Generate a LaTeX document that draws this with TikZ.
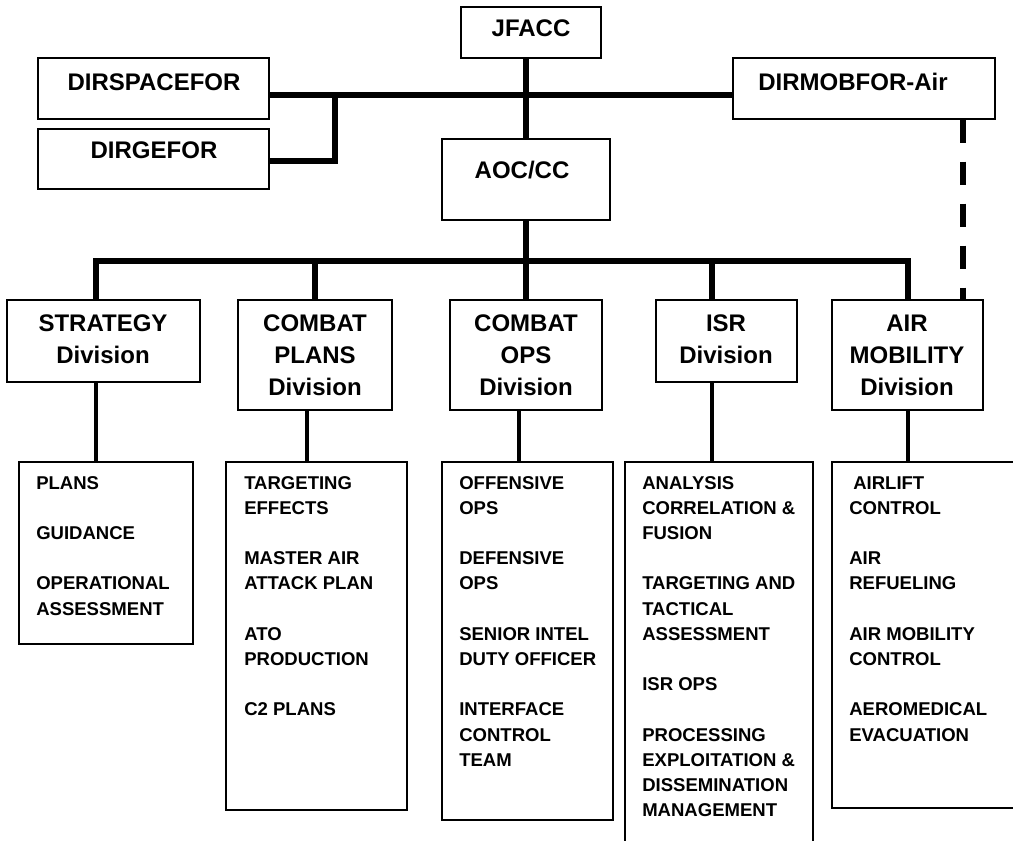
\documentclass[tikz,border=0pt]{standalone}
\usepackage{fontspec}
\setmainfont{Liberation Sans}
\usetikzlibrary{fit}

% multi-line cells aligned on the baseline of their first line
\newcommand{\ctext}[1]{\begin{tabular}[t]{@{}c@{}}#1\end{tabular}}
\newcommand{\ltext}[1]{\begin{tabular}[t]{@{}l@{}}#1\end{tabular}}

\tikzset{
  box/.style={draw=black, line width=1.1pt, inner sep=0pt, fill=white},
  hdr/.style={inner sep=0pt, anchor=base, font=\fontsize{18}{23.75}\selectfont\bfseries},
  item/.style={inner sep=0pt, anchor=base west, font=\fontsize{13.9}{18.9}\selectfont\bfseries},
  bus/.style={line width=4.1pt},
  drop/.style={line width=3pt},
  dashlink/.style={line width=4.5pt, dash pattern=on 17.25pt off 14.25pt},
}

\begin{document}
\begin{tikzpicture}[x=0.75pt, y=-0.75pt]
\useasboundingbox (0,0) rectangle (1013,840);
\fill[white] (0,0) rectangle (1013,840);

% --- top level ---
\node[box, fit={(461,7) (601,58)}] (jfacc) {};
\node[box, fit={(38,58) (269,119)}] (dspace) {};
\node[box, fit={(38,129) (269,189)}] (dge) {};
\node[box, fit={(733,58) (995,119)}] (dmob) {};
\node[box, fit={(442,139) (610,220)}] (aoc) {};

\node[hdr] (tjfacc) at (531,36) {JFACC};
\node[hdr] (tdspace) at (154,90) {DIRSPACEFOR};
\node[hdr] (tdge) at (154,158) {DIRGEFOR};
\node[hdr] (tdmob) at (853,90) {DIRMOBFOR-Air};
\node[hdr] (taoc) at (522,178) {AOC/CC};

% --- divisions ---
\node[box, fit={(7,300) (200,382)}] (strat) {};
\node[box, fit={(238,300) (392,410)}] (cplans) {};
\node[box, fit={(450,300) (602,410)}] (cops) {};
\node[box, fit={(656,300) (797,382)}] (isr) {};
\node[box, fit={(832,300) (983,410)}] (amob) {};

\node[hdr] (tstrat) at (103,331.7) {\ctext{STRATEGY\\Division}};
\node[hdr] (tcplans) at (315,331.7) {\ctext{COMBAT\\PLANS\\Division}};
\node[hdr] (tcops) at (526,331.7) {\ctext{COMBAT\\OPS\\Division}};
\node[hdr] (tisr) at (726,331.7) {\ctext{ISR\\Division}};
\node[hdr] (tamob) at (907,331.7) {\ctext{AIR\\MOBILITY\\Division}};

% --- branch lists ---
\node[box, fit={(19,462) (193,644)}] (lstrat) {};
\node[box, fit={(226,462) (407,810)}] (lcplans) {};
\node[box, fit={(442,462) (613,820)}] (lcops) {};
\node[box, fit={(625,462) (813,850)}] (lisr) {};
\node[box, fit={(832,462) (1030,808)}] (lamob) {};

\node[item] (istrat) at (36,489) {\ltext{PLANS\\ \\GUIDANCE\\ \\OPERATIONAL\\ASSESSMENT}};
\node[item] (icplans) at (244,489) {\ltext{TARGETING\\EFFECTS\\ \\MASTER AIR\\ATTACK PLAN\\ \\ATO\\PRODUCTION\\ \\C2 PLANS}};
\node[item] (icops) at (459,489) {\ltext{OFFENSIVE\\OPS\\ \\DEFENSIVE\\OPS\\ \\SENIOR INTEL\\DUTY OFFICER\\ \\INTERFACE\\CONTROL\\TEAM}};
\node[item] (iisr) at (642,489) {\ltext{ANALYSIS\\CORRELATION \&\\FUSION\\ \\TARGETING AND\\TACTICAL\\ASSESSMENT\\ \\ISR OPS\\ \\PROCESSING\\EXPLOITATION \&\\DISSEMINATION\\MANAGEMENT}};
\node[item] (iamob) at (849,489) {\ltext{\hspace{3pt}AIRLIFT\\CONTROL\\ \\AIR\\REFUELING\\ \\AIR MOBILITY\\CONTROL\\ \\AEROMEDICAL\\EVACUATION}};

% --- junction points ---
\coordinate (topbus) at (0,95);
\coordinate (gejoin) at (335,95);
\coordinate (gecorner) at (335,161);
\coordinate (divbus) at (0,261);
\coordinate (dashx) at (963,0);

% --- top connectors ---
\begin{scope}[on background layer/.style={}]
\draw[bus] (aoc.north) -- (aoc.north |- jfacc.south);
\draw[bus] (dspace.east |- topbus) -- (dmob.west |- topbus);
\draw[bus] (gejoin) -- (gecorner) -- (dge.east |- gecorner);
\draw[dashlink] (dashx |- dmob.south) -- (dashx |- amob.north);
\end{scope}

% --- division bus ---
\coordinate (bstrat) at (96,261);
\coordinate (bcplans) at (315,261);
\coordinate (bcops) at (526,261);
\coordinate (bisr) at (712,261);
\coordinate (bamob) at (908,261);
\draw[bus] (aoc.south) -- (bcops);
\draw[bus, line join=miter] (bstrat |- strat.north) -- (bstrat) -- (bamob) -- (bamob |- amob.north);
\draw[bus] (bcplans) -- (bcplans |- cplans.north);
\draw[bus] (bcops) -- (bcops |- cops.north);
\draw[bus] (bisr) -- (bisr |- isr.north);

% --- division to list drops ---
\draw[drop] (96,0 |- strat.south) -- (96,0 |- lstrat.north);
\draw[drop] (307,0 |- cplans.south) -- (307,0 |- lcplans.north);
\draw[drop] (519,0 |- cops.south) -- (519,0 |- lcops.north);
\draw[drop] (712,0 |- isr.south) -- (712,0 |- lisr.north);
\draw[drop] (908,0 |- amob.south) -- (908,0 |- lamob.north);
\end{tikzpicture}
\end{document}
